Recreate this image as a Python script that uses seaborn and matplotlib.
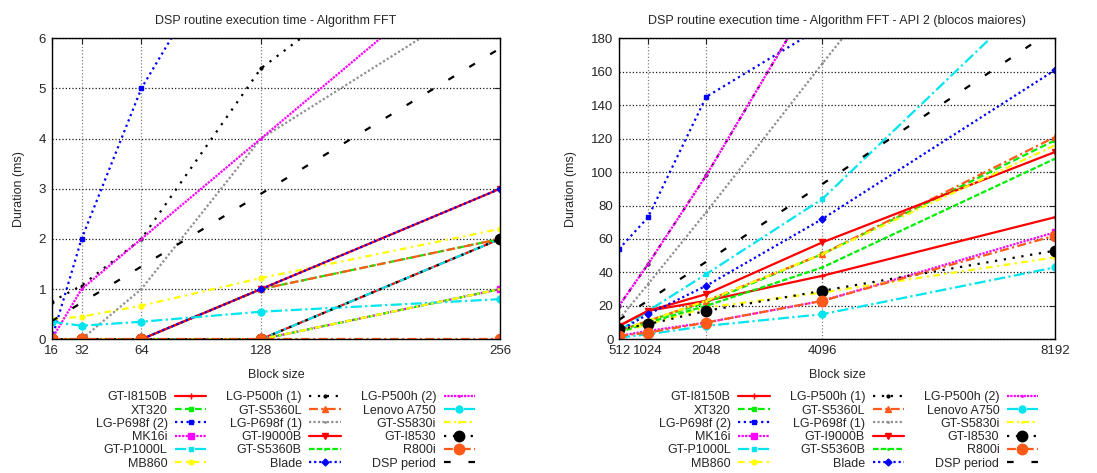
import matplotlib
matplotlib.use('Agg')
import matplotlib.pyplot as plt
import seaborn as sns

# block sizes
blocks_small = [16, 32, 64, 128, 256]
blocks_big = [512, 1024, 2048, 4096, 8192]

labels = ['GT-I8150B', 'XT320', 'LG-P698f (2)', 'MK16i', 'GT-P1000L', 'MB860',
          'LG-P500h (1)', 'GT-S5360L', 'LG-P698f (1)', 'GT-I9000B', 'GT-S5360B', 'Blade',
          'LG-P500h (2)', 'Lenovo A750', 'GT-S5830i', 'GT-I8530', 'R800i', 'DSP period']

# left chart: durations (ms), FFT
fft_gt_i8150b = [0, 0, 0, 0, 2]
fft_xt320 = [0, 0, 0, 1, 2]
fft_lg_p698f_2 = [0, 2, 5, 9, 18]
fft_mk16i = [0, 0, 0, 0, 1]
fft_gt_p1000l = [0, 0, 0, 0, 2]
fft_mb860 = [0.4, 0.45, 0.67, 1.22, 2.2]
fft_lg_p500h_1 = [0.75, 1.07, 2.0, 5.4, 9.0]
fft_gt_s5360l = [0, 0, 0, 1, 2]
fft_lg_p698f_1 = [0, 0, 1, 4, 7]
fft_gt_i9000b = [0, 0, 0, 1, 3]
fft_gt_s5360b = [0, 0, 0, 0, 1]
fft_blade = [0, 0, 0, 1, 3]
fft_lg_p500h_2 = [0, 1, 2, 4, 8]
fft_lenovo_a750 = [0.35, 0.27, 0.35, 0.55, 0.8]
fft_gt_s5830i = [0, 0, 0, 0, 1]
fft_gt_i8530 = [0, 0, 0, 0, 2]
fft_r800i = [0, 0, 0, 0, 0]
fft_dsp_period = [0.36, 0.73, 1.45, 2.9, 5.8]

# right chart: durations (ms), FFT API 2
api2_gt_i8150b = [8, 17, 23, 38, 73]
api2_xt320 = [5, 11, 22, 51, 119]
api2_lg_p698f_2 = [54, 73, 145, 187, 375]
api2_mk16i = [2, 5, 10, 23, 64]
api2_gt_p1000l = [5, 17, 39, 84, 217]
api2_mb860 = [4, 9, 19, 28, 49]
api2_lg_p500h_1 = [20, 45, 98, 215, 440]
api2_gt_s5360l = [5, 11, 23, 51, 121]
api2_lg_p698f_1 = [12, 33, 76, 165, 340]
api2_gt_i9000b = [8, 17, 27, 58, 112]
api2_gt_s5360b = [4, 10, 20, 43, 108]
api2_blade = [5, 15, 32, 72, 161]
api2_lg_p500h_2 = [20, 45, 98, 215, 440]
api2_lenovo_a750 = [1, 3, 8, 15, 43]
api2_gt_s5830i = [5, 11, 23, 51, 116]
api2_gt_i8530 = [6, 9, 17, 29, 53]
api2_r800i = [2, 4, 10, 23, 62]
api2_dsp_period = [11.6, 23.2, 46.4, 92.9, 185.8]

left_series = [fft_gt_i8150b, fft_xt320, fft_lg_p698f_2, fft_mk16i, fft_gt_p1000l, fft_mb860,
               fft_lg_p500h_1, fft_gt_s5360l, fft_lg_p698f_1, fft_gt_i9000b, fft_gt_s5360b, fft_blade,
               fft_lg_p500h_2, fft_lenovo_a750, fft_gt_s5830i, fft_gt_i8530, fft_r800i, fft_dsp_period]
right_series = [api2_gt_i8150b, api2_xt320, api2_lg_p698f_2, api2_mk16i, api2_gt_p1000l, api2_mb860,
                api2_lg_p500h_1, api2_gt_s5360l, api2_lg_p698f_1, api2_gt_i9000b, api2_gt_s5360b, api2_blade,
                api2_lg_p500h_2, api2_lenovo_a750, api2_gt_s5830i, api2_gt_i8530, api2_r800i, api2_dsp_period]

orange = '#ff5a1a'
# (color, linestyle, marker, markersize) per series, gnuplot-like
styles = [
    ('#ff0000', '-', '+', 4),
    ('#00ee00', (0, (3, 1.5)), 's', 2.5),
    ('#0000ff', (0, (1, 1.6)), 's', 3),
    ('#ff00ff', (0, (1, 0.6)), 's', 5),
    ('#00e5ee', (0, (5, 1.5, 1, 1.5)), 's', 2.5),
    ('#ffff00', (0, (3, 2, 1, 2)), 'o', 3.5),
    ('#000000', (0, (1, 3)), 'o', 2),
    (orange, (0, (4, 1.5, 1, 1.5)), '^', 5),
    ('#909090', (0, (1, 1)), '.', 2),
    ('#ff0000', '-', 'v', 5),
    ('#00ee00', (0, (2.5, 1)), '.', 2),
    ('#0000ff', (0, (1, 1.3)), 'D', 3.5),
    ('#ff00ff', (0, (1, 0.5)), '.', 2),
    ('#00e5ee', (0, (5, 1.5, 1, 1.5)), 'o', 5),
    ('#ffff00', (0, (3, 1.5, 1, 1.5)), '.', 2),
    ('#000000', (0, (1, 3)), 'o', 7.5),
    (orange, (0, (4, 1.5, 1, 1.5)), 'o', 7.5),
    ('#000000', (0, (3, 8)), None, 0),
]

sns.set_style('white')
plt.rcParams['font.family'] = ['Liberation Sans', 'DejaVu Sans']
plt.rcParams['font.size'] = 9

fig = plt.figure(figsize=(10.97, 4.73), dpi=100)
ax1 = fig.add_axes([0.0471, 0.2827, 0.4087, 0.6363])
ax2 = fig.add_axes([0.5643, 0.2827, 0.3974, 0.6363])


def draw(ax, xs, series, title, ymax, ystep, leg_x):
    for lab, vals, (c, ls, mk, ms) in zip(labels, series, styles):
        sns.lineplot(x=xs, y=vals, ax=ax, color=c, linestyle=ls, marker=mk, markersize=ms,
                     markeredgecolor=c, markerfacecolor=c, markeredgewidth=1, lw=1.6, label=lab,
                     clip_on=True)
    ax.set_xlim(xs[0], xs[-1])
    ax.set_ylim(0, ymax)
    ax.set_xticks(xs)
    ax.set_xticklabels([str(x) for x in xs])
    ax.set_yticks(range(0, ymax + 1, ystep))
    ax.grid(True, axis='x', color='0.5', ls=':', lw=0.9)
    ax.grid(True, axis='y', color='0.1', ls=':', lw=0.9)
    ax.tick_params(direction='in', top=True, right=True, length=4, width=0.8, labelsize=9.5, pad=4)
    for s in ax.spines.values():
        s.set_color('black')
        s.set_linewidth(1.0)
    ax.set_title(title, fontsize=9, pad=10)
    ax.set_xlabel('Block size', fontsize=9, labelpad=9)
    ax.set_ylabel('Duration (ms)', fontsize=9, labelpad=10)
    ax.legend(loc='upper right', bbox_to_anchor=(leg_x, 0.186), bbox_transform=fig.transFigure,
              ncol=3, markerfirst=False, frameon=False, fontsize=9, handlelength=2.5,
              handletextpad=0.6, columnspacing=1.6, labelspacing=0.1, borderpad=0)


draw(ax1, blocks_small, left_series, 'DSP routine execution time - Algorithm FFT', 6, 1, 0.4385)
draw(ax2, blocks_big, right_series,
     'DSP routine execution time - Algorithm FFT - API 2 (blocos maiores)', 180, 20, 0.952)

fig.savefig('out.png', dpi=100)
